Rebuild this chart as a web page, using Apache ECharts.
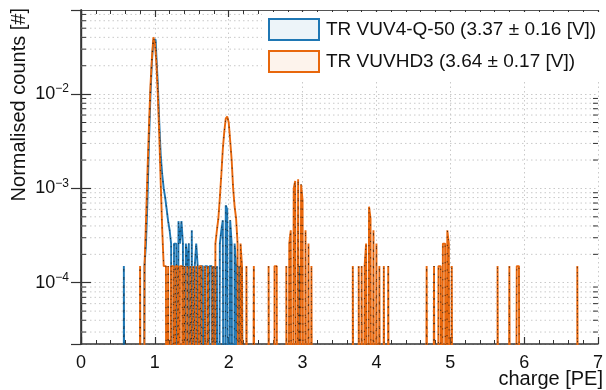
<!DOCTYPE html>
<html>
<head>
<meta charset="utf-8">
<script src="https://cdn.jsdelivr.net/npm/echarts@6/dist/echarts.min.js"></script>
<style>
html,body{margin:0;padding:0;background:#fff;}
#chart{width:606px;height:390px;}
</style>
</head>
<body>
<div id="chart"></div>
<script>
// ---- data (bin centre [PE], normalised counts); empty bins omitted ----
const binWidth = 0.02;
const xMin = 0, xMax = 7;
const yMin = 2.24e-5, yMax = 0.078;
const xTicks = [0, 1, 2, 3, 4, 5, 6, 7];
const yMajorExps = [-4, -3, -2];
const seriesNames = ['TR VUV4-Q-50 (3.37 \u00b1 0.16 [V])', 'TR VUVHD3 (3.64 \u00b1 0.17 [V])'];
const seriesColors = ['#1f77b4', '#e8670c'];

const vuv4Bins = [
  [0.59,1.5e-4],
  [0.87,1.5e-4],[0.89,2.6e-4],[0.91,7.5e-4],[0.93,3.0e-3],[0.95,9.5e-3],[0.97,2.2e-2],[0.99,3.7e-2],
  [1.01,3.8e-2],[1.03,2.6e-2],[1.05,1.3e-2],[1.07,5.0e-3],[1.09,2.2e-3],[1.11,1.4e-3],[1.13,1.0e-3],
  [1.15,8.0e-4],[1.17,6.0e-4],[1.19,4.5e-4],[1.21,3.6e-4],[1.23,2.6e-4],[1.27,2.6e-4],
  [1.29,2.6e-4],[1.33,4.5e-4],[1.35,2.6e-4],[1.37,4.5e-4],[1.39,2.6e-4],
  [1.43,2.6e-4],[1.45,1.5e-4],[1.47,2.6e-4],[1.51,3.6e-4],[1.55,1.5e-4],[1.57,2.6e-4],
  [1.59,1.5e-4],[1.63,1.5e-4],[1.65,1.5e-4],[1.69,1.5e-4],[1.71,1.5e-4],[1.75,1.5e-4],[1.77,1.5e-4],
  [1.81,1.5e-4],[1.85,1.5e-4],[1.89,2.6e-4],[1.91,3.6e-4],[1.93,4.6e-4],
  [1.97,6.6e-4],[1.99,6.0e-4],[2.03,4.6e-4],[2.05,2.6e-4],
  [2.09,2.6e-4],[2.11,1.5e-4],[2.15,1.5e-4],[2.19,1.5e-4],
  [2.97,1.5e-4]
];

const vuvhd3Bins = [
  [0.81,1.5e-4],
  [0.87,1.5e-4],[0.89,4.5e-4],[0.91,1.5e-3],[0.93,4.5e-3],[0.95,1.2e-2],[0.97,2.4e-2],[0.99,4.0e-2],
  [1.01,3.5e-2],[1.03,2.2e-2],[1.05,1.0e-2],[1.07,3.6e-3],[1.09,1.1e-3],[1.11,3.6e-4],[1.13,1.5e-4],
  [1.15,1.5e-4],[1.19,1.5e-4],[1.23,1.5e-4],[1.25,1.5e-4],[1.29,1.5e-4],[1.31,1.5e-4],[1.35,1.5e-4],
  [1.37,1.5e-4],[1.41,1.5e-4],[1.45,1.5e-4],[1.49,1.5e-4],[1.53,1.5e-4],[1.57,1.5e-4],[1.61,1.5e-4],
  [1.63,1.5e-4],[1.69,1.5e-4],[1.73,1.5e-4],
  [1.79,1.5e-4],[1.83,2.6e-4],[1.85,3.6e-4],[1.87,4.8e-4],[1.89,8.0e-4],[1.91,1.4e-3],
  [1.93,2.6e-3],[1.95,4.0e-3],[1.97,5.5e-3],[1.99,5.8e-3],[2.01,5.0e-3],[2.03,3.2e-3],[2.05,2.0e-3],
  [2.07,1.0e-3],[2.09,6.4e-4],[2.11,4.8e-4],[2.13,2.6e-4],[2.17,2.6e-4],[2.19,1.5e-4],
  [2.25,1.5e-4],[2.35,1.5e-4],[2.55,1.5e-4],[2.63,1.5e-4],[2.65,1.5e-4],
  [2.79,1.5e-4],[2.83,2.6e-4],[2.85,3.6e-4],[2.89,1.0e-3],[2.91,1.2e-3],
  [2.95,1.25e-3],[2.99,1.1e-3],[3.01,7.5e-4],[3.05,3.6e-4],
  [3.09,2.6e-4],[3.13,1.5e-4],
  [3.69,1.5e-4],
  [3.77,1.5e-4],[3.81,1.5e-4],[3.85,1.5e-4],[3.87,2.6e-4],[3.91,6.4e-4],
  [3.93,4.8e-4],[3.97,3.6e-4],[4.01,2.6e-4],[4.05,1.5e-4],
  [4.11,1.5e-4],[4.17,1.5e-4],
  [4.69,1.5e-4],[4.79,1.5e-4],[4.85,1.5e-4],[4.87,1.5e-4],[4.91,2.6e-4],[4.93,2.6e-4],
  [4.97,3.6e-4],[4.99,2.6e-4],[5.03,1.5e-4],
  [5.65,1.5e-4],[5.81,1.5e-4],[5.91,1.5e-4],[5.93,1.5e-4],
  [6.73,1.5e-4]
];

// minor log ticks (2..9 x decade) inside the y range
const yMinorTicks = [3e-5,4e-5,5e-5,6e-5,7e-5,8e-5,9e-5,
  2e-4,3e-4,4e-4,5e-4,6e-4,7e-4,8e-4,9e-4,
  2e-3,3e-3,4e-3,5e-3,6e-3,7e-3,8e-3,9e-3,
  2e-2,3e-2,4e-2,5e-2,6e-2,7e-2];

// ---- build full histograms (empty bins sit far below the axis and get clipped) ----
const EMPTY = 1e-9;
function buildHist(bins) {
  const n = Math.round((xMax - xMin) / binWidth);
  const vals = new Array(n).fill(EMPTY);
  bins.forEach(([x, v]) => {
    const i = Math.round((x - xMin - binWidth / 2) / binWidth);
    if (i >= 0 && i < n) vals[i] = v;
  });
  const out = [];
  for (let i = 0; i < n; i++) out.push([xMin + binWidth * (i + 0.5), vals[i]]);
  return out;
}

const FONT = '"Liberation Sans", Arial, Helvetica, sans-serif';
const chart = echarts.init(document.getElementById('chart'), null, {renderer: 'canvas'});

function histSeries(name, bins, color, z) {
  return {
    name: name,
    type: 'line',
    step: 'middle',
    data: buildHist(bins),
    symbol: 'none',
    showSymbol: false,
    clip: true,
    z: z,
    animation: false,
    lineStyle: {color: color, width: 1.9},
    itemStyle: {color: color}
  };
}
function dotSeries(name, bins, z) {
  return {
    name: name + ' dots',
    type: 'line',
    step: 'middle',
    data: buildHist(bins),
    symbol: 'none',
    showSymbol: false,
    clip: true,
    z: z,
    silent: true,
    animation: false,
    lineStyle: {color: '#111', width: 1, type: [1.2, 7], opacity: 0.7}
  };
}

const gridColor = '#c9c9c9';
const option = {
  animation: false,
  grid: {left: 81, right: 3, top: 10, bottom: 46, containLabel: false},
  xAxis: [{
    type: 'value', min: xMin, max: xMax, interval: 1,
    axisLine: {show: true, lineStyle: {color: '#333', width: 1.6}},
    axisTick: {show: true, inside: true, length: 7, lineStyle: {color: '#333', width: 1.2}},
    minorTick: {show: true, splitNumber: 5, length: 4, lineStyle: {color: '#333', width: 1}},
    axisLabel: {show: true, margin: 10, fontSize: 18, color: '#111', fontFamily: FONT,
      formatter: v => xTicks.indexOf(v) >= 0 ? String(v) : ''},
    splitLine: {show: true, lineStyle: {color: gridColor, type: [1.5, 3], width: 1}}
  }, {
    type: 'value', min: xMin, max: xMax, interval: 1, position: 'top',
    axisLine: {show: true, lineStyle: {color: '#555', width: 1.2}},
    axisTick: {show: true, inside: true, length: 7, lineStyle: {color: '#333', width: 1.2}},
    minorTick: {show: true, splitNumber: 5, length: 4, lineStyle: {color: '#333', width: 1}},
    axisLabel: {show: false}, splitLine: {show: false}
  }],
  yAxis: [{
    type: 'log', logBase: 10, min: yMin, max: yMax,
    axisLine: {show: true, lineStyle: {color: '#333', width: 1.6}},
    axisTick: {show: true, inside: true, length: 10, lineStyle: {color: '#333', width: 1.2}},
    axisLabel: {
      show: true, margin: 12, fontFamily: FONT, color: '#111',
      showMinLabel: false, showMaxLabel: false,
      formatter: function (v) {
        const e = Math.round(Math.log10(v));
        if (yMajorExps.indexOf(e) < 0 || Math.abs(Math.log10(v) - e) > 1e-6) return '';
        return '{a|10}{b|\u2212' + Math.abs(e) + '}';
      },
      rich: {
        a: {fontSize: 18, fontFamily: FONT, color: '#111'},
        b: {fontSize: 12, fontFamily: FONT, color: '#111', padding: [0, 0, 10, 0]}
      }
    },
    splitLine: {show: true, lineStyle: {color: gridColor, type: [1.5, 3], width: 1}}
  }, {
    type: 'log', logBase: 10, min: yMin, max: yMax, position: 'right',
    axisLine: {show: true, lineStyle: {color: '#333', width: 1.4}},
    axisTick: {show: true, inside: true, length: 10, lineStyle: {color: '#333', width: 1.2}},
    axisLabel: {show: false}, splitLine: {show: false}
  }],
  legend: {
    show: true, orient: 'vertical', left: 262, top: 12,
    padding: [6, 6, 8, 6], backgroundColor: '#fff',
    itemWidth: 50, itemHeight: 21, itemGap: 9,
    textStyle: {fontSize: 19, fontFamily: FONT, color: '#111', padding: [0, 0, 0, 2]},
    data: [
      {name: seriesNames[0], icon: 'rect',
       itemStyle: {color: 'rgba(31,119,180,0.08)', borderColor: seriesColors[0], borderWidth: 2}},
      {name: seriesNames[1], icon: 'rect',
       itemStyle: {color: 'rgba(232,103,12,0.08)', borderColor: seriesColors[1], borderWidth: 2}}
    ]
  },
  series: [
    {
      name: 'minorGrid', type: 'custom', coordinateSystem: 'cartesian2d',
      xAxisIndex: 0, yAxisIndex: 0, z: 1, silent: true, animation: false,
      data: yMinorTicks.map(v => [xMin, v]),
      renderItem: function (params, api) {
        const v = api.value(1);
        const pL = api.coord([xMin, v]);
        const pR = api.coord([xMax, v]);
        return {
          type: 'group',
          children: [
            {type: 'line', shape: {x1: pL[0], y1: pL[1], x2: pR[0], y2: pR[1]},
             style: {stroke: gridColor, lineWidth: 1, lineDash: [1.5, 3]}},
            {type: 'line', shape: {x1: pL[0], y1: pL[1], x2: pL[0] + 5, y2: pL[1]},
             style: {stroke: '#333', lineWidth: 1}},
            {type: 'line', shape: {x1: pR[0] - 5, y1: pR[1], x2: pR[0], y2: pR[1]},
             style: {stroke: '#333', lineWidth: 1}}
          ]
        };
      }
    },
    histSeries(seriesNames[0], vuv4Bins, seriesColors[0], 3),
    histSeries(seriesNames[1], vuvhd3Bins, seriesColors[1], 4),
    dotSeries(seriesNames[0], vuv4Bins, 5),
    dotSeries(seriesNames[1], vuvhd3Bins, 6)
  ],
  graphic: [
    {type: 'text', left: 9, top: 8, rotation: Math.PI / 2, z: 10,
     style: {text: 'Normalised counts [#]', font: '20px ' + FONT, fill: '#111'}},
    {type: 'text', right: 3, top: 369, z: 10,
     style: {text: 'charge [PE]', font: '20px ' + FONT, fill: '#111'}}
  ]
};
chart.setOption(option);
</script>
</body>
</html>
